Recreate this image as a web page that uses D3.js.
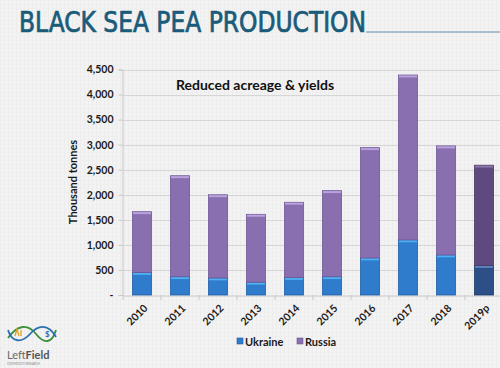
<!DOCTYPE html>
<html><head><meta charset="utf-8">
<script src="https://cdn.jsdelivr.net/npm/d3@7"></script>
<style>
html,body{margin:0;padding:0;background:#f2f2f2;}
svg{display:block;}
</style></head>
<body>
<script>
const years = ["2010","2011","2012","2013","2014","2015","2016","2017","2018","2019p"];
const ukraine = [450, 365, 340, 255, 350, 365, 740, 1100, 800, 590];
const russia  = [1212, 2015, 1660, 1355, 1500, 1717, 2200, 3290, 2175, 2000];
const yTicks = [0,500,1000,1500,2000,2500,3000,3500,4000,4500];
const seriesNames = ["Ukraine","Russia"];

const W=500,H=368;
const svg=d3.select("body").append("svg").attr("width",W).attr("height",H);
const defs=svg.append("defs");
const pat=defs.append("pattern").attr("id","tex").attr("width",4).attr("height",4).attr("patternUnits","userSpaceOnUse");
pat.append("rect").attr("width",4).attr("height",4).attr("fill","#f3f3f3");
pat.append("rect").attr("width",1).attr("height",4).attr("fill","#ececec");
pat.append("rect").attr("width",4).attr("height",1).attr("fill","#efefef");
svg.append("rect").attr("width",W).attr("height",H).attr("fill","url(#tex)");

// title
svg.append("line").attr("x1",366).attr("x2",500).attr("y1",32).attr("y2",32).attr("stroke","#93acc2").attr("stroke-width",1.5);
svg.append("text").attr("x",19).attr("y",31.5).attr("font-family","'Liberation Sans Narrow','DejaVu Sans Condensed',sans-serif")
  .attr("font-size",27.5).attr("fill","#1b5b7a").attr("stroke","#1b5b7a").attr("stroke-width",0.7)
  .attr("textLength",347).attr("lengthAdjust","spacingAndGlyphs")
  .text("BLACK SEA PEA PRODUCTION");

const x=d3.scaleBand().domain(years).range([123,503]).paddingInner(0.5).paddingOuter(0.25);
const y=d3.scaleLinear().domain([0,4500]).range([295,69.5]);

svg.append("g").selectAll("line").data(yTicks.slice(1)).join("line")
  .attr("x1",123).attr("x2",500).attr("y1",d=>Math.round(y(d))+0.5).attr("y2",d=>Math.round(y(d))+0.5)
  .attr("stroke","#d6d6d6").attr("stroke-width",1);

const yAxis=svg.append("g").attr("transform","translate(122.5,0)")
  .call(d3.axisLeft(y).tickValues(yTicks).tickSize(4).tickFormat(d=>d===0?"-":d3.format(",")(d)));
yAxis.select(".domain").attr("stroke","#c8c8c8");
yAxis.selectAll(".tick line").attr("stroke","#c8c8c8");
yAxis.selectAll("text").attr("font-family","Lato,'Open Sans',sans-serif").attr("font-weight","bold").attr("font-size",10.5).attr("fill","#1a1a1a").attr("x",-9);

const xAxis=svg.append("g").attr("transform","translate(0,295.5)").call(d3.axisBottom(x).tickSize(0));
xAxis.select(".domain").attr("stroke","#c8c8c8");
xAxis.selectAll("text").attr("font-family","Lato,'Open Sans',sans-serif").attr("font-weight","bold").attr("font-size",10.5).attr("fill","#1a1a1a")
  .attr("text-anchor","end").attr("transform","translate(-1,6) rotate(-45)").attr("dy","0.7em");
const step=x.step();
svg.append("g").selectAll("line").data(d3.range(years.length+1)).join("line")
  .attr("x1",i=>123+i*step).attr("x2",i=>123+i*step).attr("y1",295).attr("y2",300).attr("stroke","#c8c8c8");

svg.append("text").attr("transform","translate(77,182) rotate(-90)").attr("text-anchor","middle")
  .attr("font-family","Lato,'Open Sans',sans-serif").attr("font-weight","bold").attr("font-size",11).attr("fill","#1a1a1a").text("Thousand tonnes");

const colors={
  Ukraine:{fill:"#2f7bcc",top:"#4fb0f2",edge:"#1f5fa8"},
  Russia:{fill:"#8a6fb0",top:"#b9a3dc",edge:"#6e5796"},
  UkraineP:{fill:"#2b4f86",top:"#5f86c0",edge:"#1f3a66"},
  RussiaP:{fill:"#5f4a80",top:"#8a76aa",edge:"#4a3966"}
};
const data=years.map((yr,i)=>({yr,u:ukraine[i],r:russia[i],p:yr.endsWith("p")}));
const stack=d3.stack().keys(["u","r"])(data);
stack.forEach((layer,li)=>{
  const g=svg.append("g");
  layer.forEach(d=>{
    const name=(li===0?"Ukraine":"Russia")+(d.data.p?"P":"");
    const c=colors[name];
    const x0=x(d.data.yr), bw=x.bandwidth();
    const y0=y(d[1]), h=y(d[0])-y(d[1]);
    g.append("rect").attr("x",x0).attr("y",y0).attr("width",bw).attr("height",h).attr("fill",c.fill).attr("stroke",c.edge).attr("stroke-width",0.8);
    g.append("rect").attr("x",x0+0.5).attr("y",y0+0.4).attr("width",bw-1).attr("height",2).attr("fill",c.top);
  });
});

svg.append("text").attr("x",176).attr("y",89.5).attr("font-family","Lato,'Open Sans',sans-serif").attr("font-weight","bold").attr("font-size",14).attr("fill","#111")
  .text("Reduced acreage & yields");

const leg=svg.append("g").attr("font-family","Lato,'Open Sans',sans-serif").attr("font-weight","bold").attr("font-size",11).attr("fill","#1a1a1a");
const legX=[237,297];
seriesNames.forEach((n,i)=>{
  leg.append("rect").attr("x",legX[i]).attr("y",338).attr("width",6).attr("height",6).attr("fill",colors[n].fill).attr("stroke",colors[n].edge).attr("stroke-width",0.6);
  leg.append("text").attr("x",legX[i]+8).attr("y",345.5).text(n);
});

// logo
const logo=svg.append("g");
logo.append("path").attr("d","M8,338 C18,324 28,324 36,334 C44,344 52,344 56,330").attr("fill","none").attr("stroke","#3a8f3a").attr("stroke-width",1.8);
logo.append("path").attr("d","M8,330 C12,343 22,343 30,334 C38,325 48,323 56,337").attr("fill","none").attr("stroke","#2a6fb0").attr("stroke-width",1.8);
logo.append("path").attr("d","M15,336 l2,-7 l2,7 M21,336 l0,-6").attr("stroke","#e0a020").attr("stroke-width",1.3).attr("fill","none");
logo.append("text").attr("x",45).attr("y",337).attr("font-family","Lato,sans-serif").attr("font-weight","bold").attr("font-size",8).attr("fill","#2a6fb0").text("$");
logo.append("text").attr("x",7).attr("y",359).attr("font-family","Lato,sans-serif").attr("font-size",11).attr("fill","#6a6a6a")
  .html('Left<tspan font-weight="bold" fill="#555">Field</tspan>');
logo.append("text").attr("x",7).attr("y",364.5).attr("font-family","Lato,sans-serif").attr("font-size",2.8).attr("fill","#888").text("COMMODITY RESEARCH");
</script>
</body></html>
